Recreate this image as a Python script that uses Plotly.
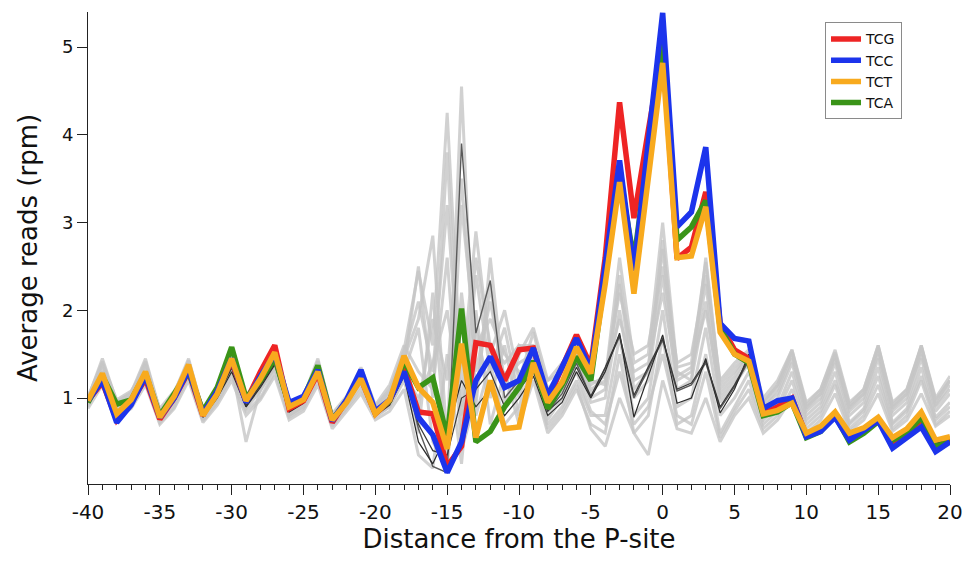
import plotly.graph_objects as go

# Distance from the P-site (codons)
positions = list(range(-40, 21))

# Average reads (rpm) for the highlighted codons
tcg = [0.97, 1.18, 0.75, 0.95, 1.22, 0.76, 1.0, 1.3, 0.8, 1.1,
       1.42, 0.96, 1.3, 1.6, 0.88, 0.97, 1.28, 0.72, 0.97, 1.22,
       0.82, 0.97, 1.35, 0.84, 0.82, 0.22, 0.45, 1.63, 1.6, 1.2,
       1.55, 1.57, 0.98, 1.35, 1.72, 1.37, 2.6, 4.37, 3.05, 4.05,
       5.0, 2.59, 2.72, 3.35, 1.85, 1.55, 1.45, 0.82, 0.9, 1.0,
       0.57, 0.65, 0.82, 0.55, 0.65, 0.75, 0.48, 0.6, 0.75, 0.42, 0.52]
tcc = [0.97, 1.2, 0.72, 0.92, 1.25, 0.78, 1.0, 1.32, 0.82, 1.08,
       1.45, 0.95, 1.25, 1.5, 0.95, 1.02, 1.32, 0.74, 0.98, 1.32,
       0.85, 0.98, 1.3, 0.78, 0.58, 0.15, 0.5, 1.2, 1.47, 1.12,
       1.2, 1.57, 1.03, 1.35, 1.68, 1.32, 2.5, 3.71, 2.45, 3.95,
       5.39, 2.95, 3.12, 3.86, 1.85, 1.68, 1.65, 0.88, 0.97, 1.0,
       0.56, 0.62, 0.78, 0.52, 0.63, 0.74, 0.43, 0.55, 0.67, 0.39, 0.5]
tct = [0.97, 1.28, 0.82, 0.98, 1.3, 0.78, 1.02, 1.38, 0.8, 1.05,
       1.45, 0.97, 1.22, 1.52, 0.9, 0.98, 1.3, 0.75, 0.95, 1.22,
       0.82, 0.98, 1.48, 1.12, 0.95, 0.42, 1.62, 0.55, 1.2, 0.65,
       0.67, 1.4, 0.95, 1.18, 1.58, 1.28, 2.3, 3.46, 2.19, 3.45,
       4.82, 2.6, 2.62, 3.18, 1.75, 1.5, 1.42, 0.82, 0.86, 0.94,
       0.6, 0.68, 0.84, 0.6, 0.66, 0.78, 0.55, 0.65, 0.84, 0.52, 0.56]
tca = [0.95, 1.25, 0.93, 0.98, 1.28, 0.8, 1.05, 1.3, 0.85, 1.12,
       1.58, 1.0, 1.2, 1.45, 0.92, 1.0, 1.37, 0.75, 0.97, 1.25,
       0.83, 0.97, 1.42, 1.12, 1.23, 0.55, 2.02, 0.5, 0.62, 0.9,
       1.12, 1.42, 0.88, 1.15, 1.47, 1.2, 2.4, 3.55, 2.57, 3.8,
       5.17, 2.8, 2.95, 3.25, 1.8, 1.5, 1.4, 0.8, 0.84, 0.95,
       0.55, 0.62, 0.8, 0.5, 0.6, 0.73, 0.52, 0.6, 0.78, 0.45, 0.5]

# Remaining codons (background profiles)
other_codons = [
    [1.0, 1.42, 0.95, 1.05, 1.42, 0.85, 1.05, 1.43, 0.85, 1.1,
     1.42, 0.98, 1.2, 1.45, 0.9, 1.0, 1.42, 0.8, 1.0, 1.3,
     0.9, 1.1, 1.55, 2.45, 1.6, 4.25, 1.2, 2.9, 1.5, 2.0,
     1.2, 1.75, 1.1, 1.3, 1.55, 1.1, 1.2, 2.6, 1.4, 1.5,
     3.0, 1.35, 1.4, 2.55, 1.1, 1.3, 1.5, 0.95, 1.15, 1.55,
     0.9, 1.05, 1.5, 0.9, 1.05, 1.58, 0.9, 1.05, 1.6, 0.95, 1.2],
    [0.95, 1.35, 0.9, 1.0, 1.38, 0.8, 1.0, 1.4, 0.8, 1.05,
     1.38, 0.95, 1.15, 1.4, 0.85, 0.95, 1.38, 0.75, 0.95, 1.25,
     0.85, 1.05, 1.45, 1.9, 2.85, 0.5, 4.55, 0.9, 2.6, 1.1,
     1.6, 1.45, 0.9, 1.2, 1.45, 1.0, 1.1, 2.3, 1.1, 1.3,
     2.7, 1.2, 1.3, 2.3, 1.0, 1.2, 1.45, 0.9, 1.1, 1.5,
     0.85, 1.0, 1.45, 0.85, 1.0, 1.5, 0.85, 1.0, 1.55, 0.9, 1.1],
    [0.9, 1.3, 0.85, 0.95, 1.3, 0.78, 0.95, 1.35, 0.78, 1.0,
     1.35, 0.5, 1.1, 1.35, 0.8, 0.92, 1.3, 0.72, 0.92, 1.2,
     0.8, 1.0, 1.35, 2.5, 1.0, 3.8, 0.6, 2.4, 1.3, 1.8,
     1.0, 1.6, 0.8, 1.1, 1.4, 0.95, 1.0, 2.0, 1.0, 1.2,
     2.4, 1.1, 1.2, 2.1, 0.95, 1.15, 1.4, 0.85, 1.0, 1.4,
     0.8, 0.95, 1.4, 0.8, 0.95, 1.45, 0.8, 0.95, 1.45, 0.85, 1.05],
    [0.92, 1.2, 0.8, 0.9, 1.2, 0.72, 0.9, 1.25, 0.74, 0.95,
     1.25, 0.85, 1.0, 1.3, 0.78, 0.88, 1.2, 0.68, 0.88, 1.1,
     0.78, 0.9, 1.2, 0.6, 2.2, 0.3, 3.2, 1.6, 1.9, 1.5,
     1.3, 1.3, 0.7, 0.9, 1.2, 0.8, 0.8, 1.7, 0.8, 1.0,
     2.0, 0.9, 1.0, 1.8, 0.8, 1.0, 1.3, 0.75, 0.9, 1.3,
     0.75, 0.9, 1.3, 0.72, 0.88, 1.35, 0.72, 0.88, 1.35, 0.78, 0.95],
    [0.88, 1.15, 0.78, 0.88, 1.15, 0.7, 0.88, 1.2, 0.72, 0.92,
     1.2, 0.8, 0.98, 1.25, 0.75, 0.85, 1.15, 0.65, 0.85, 1.05,
     0.75, 0.85, 1.1, 0.35, 0.2, 1.5, 0.25, 2.0, 0.7, 1.3,
     0.7, 1.2, 0.6, 0.8, 1.1, 0.7, 0.6, 1.5, 0.6, 0.8,
     1.7, 0.7, 0.8, 1.5, 0.6, 0.9, 1.2, 0.7, 0.85, 1.2,
     0.7, 0.85, 1.2, 0.7, 0.85, 1.25, 0.7, 0.85, 1.25, 0.75, 0.9],
    [1.02, 1.4, 0.98, 1.08, 1.35, 0.88, 1.08, 1.38, 0.88, 1.12,
     1.4, 1.0, 1.22, 1.48, 0.92, 1.02, 1.45, 0.82, 1.02, 1.35,
     0.92, 1.15, 1.6, 1.3, 1.1, 2.6, 0.4, 1.0, 2.3, 0.9,
     1.5, 1.8, 1.2, 1.4, 1.6, 1.15, 1.25, 2.2, 1.5, 1.6,
     2.5, 1.4, 1.5, 2.4, 1.2, 1.4, 1.55, 1.0, 1.2, 1.55,
     0.95, 1.1, 1.55, 0.95, 1.1, 1.6, 0.95, 1.1, 1.6, 1.0, 1.25],
    [0.96, 1.3, 0.88, 0.98, 1.28, 0.8, 0.98, 1.32, 0.8, 1.02,
     1.32, 0.9, 1.12, 1.38, 0.84, 0.94, 1.3, 0.74, 0.94, 1.18,
     0.82, 0.95, 1.3, 1.8, 0.5, 0.2, 2.2, 0.8, 1.4, 0.7,
     0.9, 1.4, 0.75, 1.0, 1.3, 0.85, 0.7, 1.3, 0.7, 0.9,
     1.5, 0.8, 0.7, 1.3, 0.55, 0.85, 1.1, 0.65, 0.8, 1.1,
     0.65, 0.8, 1.15, 0.65, 0.8, 1.15, 0.65, 0.8, 1.2, 0.7, 0.85],
    [0.98, 1.38, 0.92, 1.02, 1.4, 0.82, 1.02, 1.42, 0.82, 1.08,
     1.4, 0.92, 1.18, 1.42, 0.86, 0.98, 1.4, 0.78, 0.98, 1.28,
     0.86, 1.0, 1.4, 0.9, 1.9, 1.2, 3.5, 1.3, 2.1, 1.2,
     1.4, 1.5, 1.0, 1.2, 1.5, 1.05, 1.3, 1.9, 1.3, 1.4,
     2.2, 1.25, 1.35, 2.0, 1.05, 1.25, 1.5, 0.9, 1.05, 1.45,
     0.88, 1.05, 1.48, 0.88, 1.05, 1.55, 0.88, 1.05, 1.5, 0.92, 1.15],
    [0.93, 1.25, 0.84, 0.94, 1.25, 0.76, 0.94, 1.28, 0.76, 0.98,
     1.3, 0.88, 1.08, 1.35, 0.8, 0.9, 1.25, 0.7, 0.9, 1.15,
     0.8, 0.9, 1.25, 1.0, 1.4, 2.0, 0.8, 1.8, 1.0, 1.6,
     0.8, 1.3, 0.65, 0.85, 1.15, 0.65, 0.45, 1.0, 0.6, 0.35,
     1.2, 0.65, 0.6, 1.0, 0.5, 0.8, 1.0, 0.6, 0.75, 1.0,
     0.6, 0.75, 1.05, 0.62, 0.75, 1.05, 0.62, 0.75, 1.05, 0.68, 0.8],
    [1.0, 1.45, 0.96, 1.06, 1.45, 0.86, 1.06, 1.45, 0.86, 1.1,
     1.45, 0.96, 1.2, 1.5, 0.88, 1.0, 1.42, 0.8, 1.0, 1.32,
     0.88, 1.08, 1.5, 2.1, 1.3, 3.2, 0.9, 2.6, 1.6, 1.4,
     1.6, 1.6, 1.2, 1.3, 1.6, 1.2, 1.15, 2.4, 1.2, 1.3,
     2.8, 1.3, 1.2, 2.6, 1.15, 1.35, 1.52, 0.95, 1.15, 1.52,
     0.92, 1.1, 1.52, 0.92, 1.1, 1.6, 0.92, 1.1, 1.58, 0.98, 1.2],
]

# A few codons drawn darker for reference
dark_codons = [
    [0.95, 1.25, 0.85, 0.95, 1.25, 0.78, 0.97, 1.3, 0.8, 1.02,
     1.35, 0.9, 1.15, 1.4, 0.85, 0.95, 1.3, 0.75, 0.95, 1.2,
     0.82, 0.95, 1.35, 0.65, 0.22, 0.15, 3.9, 1.74, 2.34, 1.0,
     1.2, 1.35, 0.85, 1.05, 1.4, 1.01, 1.34, 1.7, 1.0, 1.33,
     1.66, 1.08, 1.15, 1.4, 0.88, 1.13, 1.43, 0.81, 0.87, 0.97,
     0.58, 0.66, 0.82, 0.57, 0.65, 0.76, 0.53, 0.63, 0.81, 0.47, 0.54],
    [0.96, 1.22, 0.8, 0.94, 1.24, 0.76, 0.96, 1.3, 0.78, 1.0,
     1.3, 0.9, 1.12, 1.38, 0.84, 0.94, 1.28, 0.74, 0.94, 1.18,
     0.8, 0.92, 1.25, 0.5, 0.25, 0.6, 1.2, 0.9, 1.1, 0.8,
     1.0, 1.25, 0.8, 0.95, 1.3, 1.0, 1.3, 1.74, 0.78, 1.25,
     1.72, 0.94, 1.0, 1.45, 0.83, 1.1, 1.5, 0.82, 0.86, 0.95,
     0.58, 0.66, 0.82, 0.58, 0.64, 0.76, 0.52, 0.62, 0.8, 0.48, 0.54],
    [0.97, 1.24, 0.82, 0.96, 1.26, 0.78, 0.98, 1.32, 0.8, 1.02,
     1.34, 0.92, 1.14, 1.4, 0.86, 0.96, 1.3, 0.76, 0.96, 1.2,
     0.82, 0.94, 1.3, 0.7, 0.4, 0.35, 1.0, 1.1, 1.3, 0.9,
     1.1, 1.3, 0.85, 1.0, 1.35, 1.02, 1.35, 1.72, 1.03, 1.35,
     1.68, 1.1, 1.17, 1.42, 0.9, 1.15, 1.45, 0.8, 0.85, 0.96,
     0.57, 0.65, 0.8, 0.56, 0.64, 0.75, 0.53, 0.62, 0.8, 0.48, 0.53],
]

x_ticks = [-40, -35, -30, -25, -20, -15, -10, -5, 0, 5, 10, 15, 20]
y_ticks = [1, 2, 3, 4, 5]

FONT = "DejaVu Sans"

fig = go.Figure()

for vals in other_codons:
    fig.add_trace(go.Scatter(
        x=positions, y=vals, mode="lines", showlegend=False, hoverinfo="skip",
        line=dict(color="rgba(198,198,198,0.8)", width=3)))

dark_styles = [("#5a5a5a", 1.4), ("#2a2a2a", 1.2), ("#3a3a3a", 1.2)]
for vals, (col, w) in zip(dark_codons, dark_styles):
    fig.add_trace(go.Scatter(
        x=positions, y=vals, mode="lines", showlegend=False, hoverinfo="skip",
        line=dict(color=col, width=w)))

# Highlighted codons; drawing order differs from legend order
highlight = [
    ("TCG", tcg, "#EE2424", 1),
    ("TCA", tca, "#3A9418", 4),
    ("TCC", tcc, "#1C34EC", 2),
    ("TCT", tct, "#F8AA1E", 3),
]
for name, vals, col, rank in highlight:
    fig.add_trace(go.Scatter(
        x=positions, y=vals, mode="lines", name=name, legendrank=rank,
        line=dict(color=col, width=5.5)))

fig.update_layout(
    width=964, height=563,
    margin=dict(l=88, r=14, t=12, b=79, autoexpand=False),
    paper_bgcolor="white", plot_bgcolor="white",
    font=dict(family=FONT, color="#111111"),
    showlegend=True,
    legend=dict(
        x=0.855, y=0.978, xanchor="left", yanchor="top",
        bgcolor="white", bordercolor="#8a8a8a", borderwidth=1,
        font=dict(family=FONT, size=14, color="#111111"),
        tracegroupgap=0, itemwidth=30),
    xaxis=dict(
        range=[-40, 20], tickmode="array", tickvals=x_ticks,
        ticktext=[str(v) for v in x_ticks], automargin=False,
        ticks="outside", ticklen=10, tickwidth=1, tickcolor="#222222",
        minor=dict(dtick=1, ticks="outside", ticklen=5, tickwidth=1,
                   tickcolor="#222222", showgrid=False),
        showline=True, linecolor="#222222", linewidth=1,
        showgrid=False, zeroline=False,
        tickfont=dict(family=FONT, size=20, color="#111111"),
        title=dict(text="Distance from the P-site", standoff=4,
                   font=dict(family=FONT, size=26, color="#111111"))),
    yaxis=dict(
        range=[0.02, 5.4], tickmode="array", tickvals=y_ticks,
        ticktext=[str(v) for v in y_ticks], automargin=False,
        ticks="outside", ticklen=10, tickwidth=1, tickcolor="#222222",
        showline=True, linecolor="#222222", linewidth=1,
        showgrid=False, zeroline=False,
        tickfont=dict(family=FONT, size=18, color="#111111"),
        title=dict(text="Average reads (rpm)", standoff=16,
                   font=dict(family=FONT, size=26, color="#111111"))),
)

fig.write_html("out.html")
